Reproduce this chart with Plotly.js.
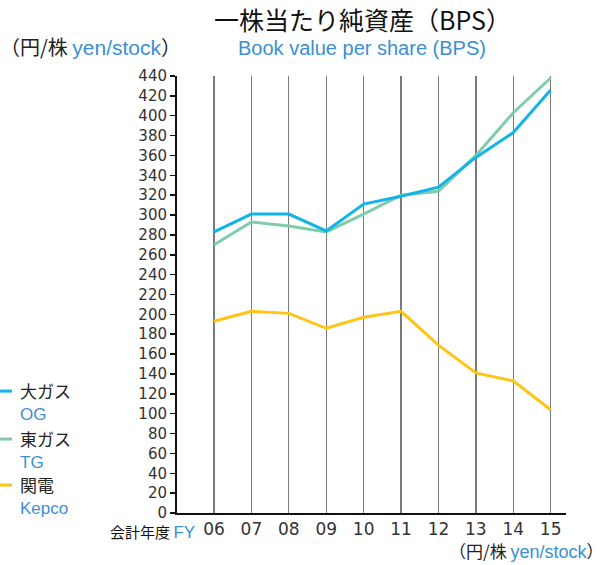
<!DOCTYPE html>
<html>
<head>
<meta charset="utf-8">
<script src="https://cdn.plot.ly/plotly-3.0.1.min.js"></script>
<style>html,body{margin:0;padding:0;background:#fff;}#chart{width:614px;height:565px;}</style>
</head>
<body>
<div id="chart"></div>
<script>
const years = ["06","07","08","09","10","11","12","13","14","15"];
const ogValues = [283, 301, 301, 284, 311, 319, 328, 358, 383, 426];
const tgValues = [270, 293, 289, 283, 301, 320, 324, 360, 403, 438];
const kepcoValues = [193, 203, 201, 186, 197, 203, 169, 141, 133, 104];
const seriesNamesJa = ["大ガス", "東ガス", "関電"];
const seriesNamesEn = ["OG", "TG", "Kepco"];
const seriesColors = ["#12b5ea", "#7fcbaa", "#ffc414"];

const JP = '"Noto Sans CJK JP", "Noto Sans", sans-serif';
const EN = '"Liberation Sans", Arial, sans-serif';
const NUM = '"DejaVu Sans", "Noto Sans", sans-serif';
const BLUE = '#3a8fd6';

const seriesData = [ogValues, tgValues, kepcoValues];
const traces = seriesData.map((vals, i) => ({
  x: years, y: vals, type: 'scatter', mode: 'lines',
  line: {color: seriesColors[i], width: 3},
  name: seriesNamesEn[i], showlegend: false, hoverinfo: 'skip'
}));
const ordered = [traces[2], traces[1], traces[0]];

const ann = [];
function A(x, y, text, size, color, family, xanchor, yanchor) {
  ann.push({xref:'paper', yref:'paper', x:(x-177)/(566-177), y:(513-y)/(513-75.7),
    text:text, showarrow:false, xanchor:xanchor||'center', yanchor:yanchor||'middle',
    font:{size:size, color:color, family:family}});
}
A(362, 19, '一株当たり純資産（BPS）', 25, '#111', JP);
A(362, 48, 'Book value per share (BPS)', 20, BLUE, EN);
A(-2, 46, '（円/株 <span style="color:' + BLUE + ';font-family:Liberation Sans;font-size:21px">yen/stock</span>）', 20, '#222', JP, 'left');
A(606, 565, '（円/株 <span style="color:' + BLUE + ';font-family:Liberation Sans;font-size:18px">yen/stock</span>）', 17, '#222', JP, 'right', 'bottom');
A(197, 532, '会計年度 <span style="color:' + BLUE + ';font-family:Liberation Sans;font-size:17px">FY</span>', 15, '#111', JP, 'right');

const legendY = [391, 439, 485];
const shapes = [];
legendY.forEach((yy, i) => {
  ann.push({xref:'paper', yref:'paper', x:(18-177)/(566-177), y:(513-(yy+10))/(513-75.7),
    text: seriesNamesJa[i] + '<br><span style="color:' + BLUE + ';font-family:Liberation Sans">' + seriesNamesEn[i] + '</span>',
    showarrow:false, xanchor:'left', yanchor:'middle', align:'left',
    font:{size:17, color:'#222', family:JP}});
  shapes.push({type:'line', xref:'paper', yref:'paper',
    x0:(0-177)/(566-177), x1:(12-177)/(566-177),
    y0:(513-yy)/(513-75.7), y1:(513-yy)/(513-75.7),
    line:{color:seriesColors[i], width:3}});
});

const layout = {
  width:614, height:565,
  margin:{l:177, r:48, t:75.7, b:52},
  paper_bgcolor:'#fff', plot_bgcolor:'#fff',
  showlegend:false,
  xaxis:{type:'category', range:[-0.99, 9.41], showgrid:true, gridcolor:'#7a7a7a', gridwidth:1.3,
    showline:true, linecolor:'#111', linewidth:2, ticks:'', zeroline:false,
    tickfont:{size:17, color:'#333', family:NUM}, fixedrange:true},
  yaxis:{range:[0, 440], dtick:20, tick0:0, showgrid:false, zeroline:false,
    showline:true, linecolor:'#111', linewidth:2, ticks:'outside', ticklen:5, tickcolor:'#111', tickwidth:1.5,
    tickfont:{size:15, color:'#333', family:NUM}, fixedrange:true},
  annotations: ann,
  shapes: shapes
};
Plotly.newPlot('chart', ordered, layout, {staticPlot:true, displayModeBar:false});
</script>
</body>
</html>
